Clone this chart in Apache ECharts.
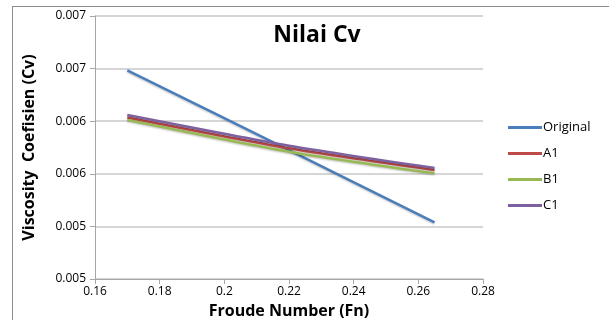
<!DOCTYPE html>
<html>
<head>
<meta charset="utf-8">
<script src="https://cdn.jsdelivr.net/npm/echarts@6/dist/echarts.min.js"></script>
<style>
  html, body { margin: 0; padding: 0; background: #fff; }
  #frame { position: absolute; left: 12px; top: 6px; width: 600px; height: 320px; border: 1px solid #8c8c8c; border-right: none; border-bottom: none; }
  #chart { width: 609px; height: 320px; position: absolute; left: 0; top: 0; }
</style>
</head>
<body>
<div id="frame"></div>
<div id="chart"></div>
<script>
// Froude number points
const fn = [0.17, 0.22, 0.265]
// viscosity coefficient per model
const original = [0.006484, 0.005725, 0.005039]
const a1 = [0.006035, 0.005742, 0.005536]
const b1 = [0.006011, 0.005710, 0.005505]
const c1 = [0.006059, 0.005767, 0.005555]

const yTicks = ['0.005', '0.005', '0.006', '0.006', '0.007', '0.007']
const xTicks = ['0.16', '0.18', '0.2', '0.22', '0.24', '0.26', '0.28']
const yMin = 0.0045, yStep = 0.0005
const xMin = 0.16, xStep = 0.02

const font = '"Open Sans", "Noto Sans", sans-serif'

const pairs = (ys) => fn.map((x, i) => [x, ys[i]])
const mkSeries = (name, ys, color) => ({
  name,
  type: 'line',
  smooth: 0.25,
  symbol: 'none',
  data: pairs(ys),
  lineStyle: { color, width: 2.5, shadowColor: 'rgba(0,0,0,0.25)', shadowBlur: 2, shadowOffsetY: 1 },
  itemStyle: { color },
})

const chart = echarts.init(document.getElementById('chart'))
chart.setOption({
  animation: false,
  title: {
    text: 'Nilai Cv',
    left: 312,
    top: 19,
    textAlign: 'center',
    textStyle: { fontFamily: font, fontSize: 23, fontWeight: 'bold', color: '#000' },
  },
  legend: {
    orient: 'vertical',
    left: 503,
    top: 116,
    itemWidth: 34,
    itemHeight: 3,
    itemGap: 13,
    icon: 'rect',
    data: ['Original', 'A1', 'B1', 'C1'],
    textStyle: { fontFamily: font, fontSize: 13, color: '#000', padding: [0, 0, 0, -4] },
  },
  grid: { left: 95, right: 126, top: 16, bottom: 41, containLabel: false, outerBoundsMode: 'none' },
  xAxis: {
    type: 'value',
    min: xMin,
    max: 0.28,
    interval: xStep,
    name: 'Froude Number (Fn)',
    nameLocation: 'middle',
    nameGap: 24,
    nameTextStyle: { fontFamily: font, fontSize: 16, fontWeight: 'bold', color: '#000' },
    axisLine: { lineStyle: { color: '#a6a6a6', width: 1 } },
    axisTick: { show: true, length: 5, lineStyle: { color: '#a6a6a6' } },
    axisLabel: {
      fontFamily: font, fontSize: 12, color: '#000', margin: 7,
      formatter: (v) => xTicks[Math.round((v - xMin) / xStep)],
    },
    splitLine: { show: false },
  },
  yAxis: {
    type: 'value',
    min: yMin,
    max: 0.007,
    interval: yStep,
    name: 'Viscosity  Coefisien (Cv)',
    nameLocation: 'middle',
    nameGap: 58,
    nameTextStyle: { fontFamily: font, fontSize: 16, fontWeight: 'bold', color: '#000' },
    axisLine: { show: true, lineStyle: { color: '#a6a6a6', width: 1 } },
    axisTick: { show: true, length: 5, lineStyle: { color: '#a6a6a6' } },
    axisLabel: {
      fontFamily: font, fontSize: 12, color: '#000', margin: 9,
      formatter: (v) => yTicks[Math.round((v - yMin) / yStep)],
    },
    splitLine: { show: true, lineStyle: { color: '#c8c8c8', width: 1.5 } },
  },
  series: [
    mkSeries('Original', original, '#4a7ebb'),
    mkSeries('A1', a1, '#be4b48'),
    mkSeries('B1', b1, '#98b954'),
    mkSeries('C1', c1, '#7d60a0'),
  ],
})
</script>
</body>
</html>
